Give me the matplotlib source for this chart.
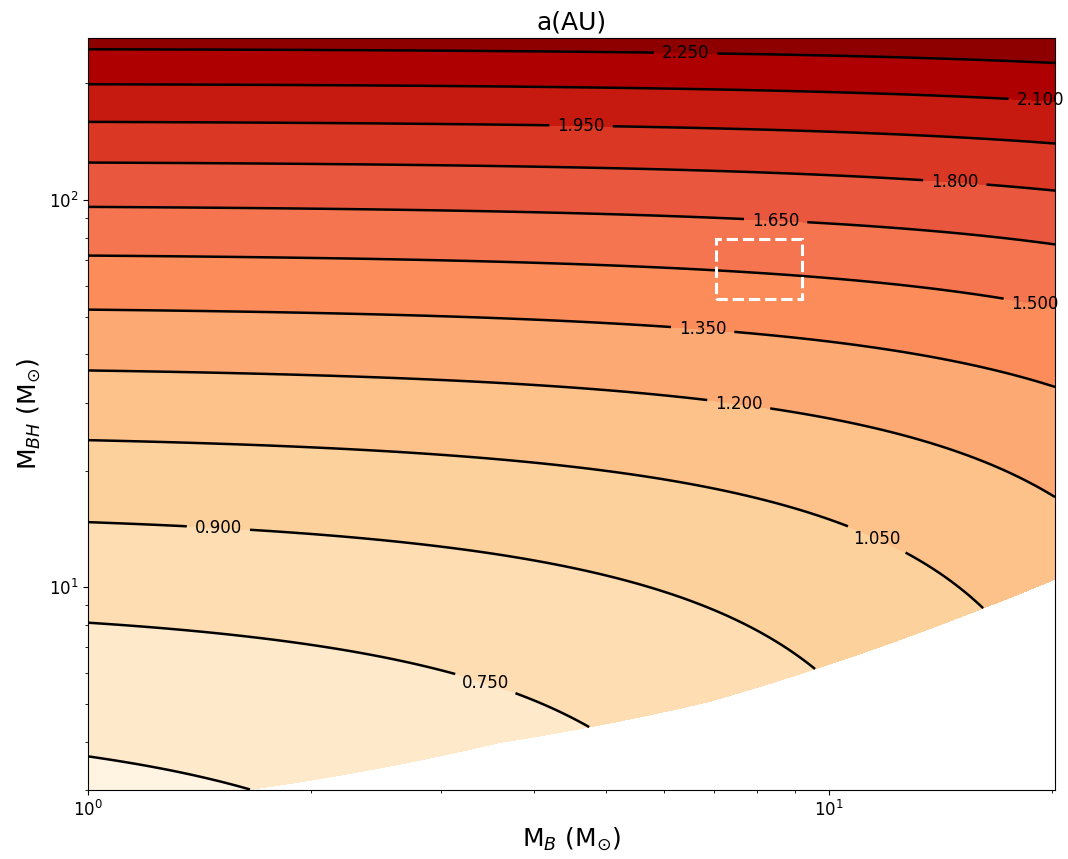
import numpy as np
import matplotlib
matplotlib.use('Agg')
import matplotlib.pyplot as plt
from matplotlib.patches import Rectangle

# orbital period (days), read from where the a-contours sit (Kepler: a^3 = M_tot * P^2)
period_days = 78.6

# contour levels of a (AU)
levels = [0.45, 0.60, 0.75, 0.90, 1.05, 1.20, 1.35, 1.50, 1.65, 1.80, 1.95, 2.10, 2.25, 2.40]

# lower edge of the allowed region (white below it)
edge_MB = [1.0, 1.655, 3.6, 6.91, 12.2, 20.2]
edge_MBH = [2.71, 3.01, 3.98, 5.08, 7.22, 10.5]

# plotted range
MB_range = [1.0, 20.2]
MBH_range = [3.0, 262.0]

# dashed box
box_MB = [7.05, 9.2]
box_MBH = [55.6, 79.3]

# where the contour labels sit
label_pos = [(6.41, 240), (19.3, 182), (4.63, 156), (14.8, 112), (8.48, 89.3),
             (19.0, 54.6), (6.76, 46.8), (7.56, 29.8), (11.65, 13.5),
             (1.50, 14.3), (3.44, 5.66)]

# grid follows the lower edge so the white cut-out stays smooth
MB = np.logspace(np.log10(MB_range[0]), np.log10(MB_range[1]), 500)
t = np.linspace(0, 1, 500)
edge = np.interp(MB, edge_MB, edge_MBH)
X = np.tile(MB, (len(t), 1))
Y = edge[None, :] * (MBH_range[1] / edge[None, :]) ** t[:, None]
P = period_days / 365.25
a = ((X + Y) * P**2) ** (1.0 / 3.0)

fig, ax = plt.subplots(figsize=(10.68, 8.59), dpi=100)
fig.subplots_adjust(left=0.0824, right=0.9878, top=0.9558, bottom=0.0803)

ax.set_xscale('log')
ax.set_yscale('log')
ax.set_xlim(MB_range)
ax.set_ylim(MBH_range)

cf = ax.contourf(X, Y, a, levels=levels, cmap='OrRd')
cs = ax.contour(X, Y, a, levels=levels, colors='k', linewidths=1.8)
labels = ax.clabel(cs, fmt='%.3f', fontsize=12, manual=label_pos, inline=True, inline_spacing=8)
for lab in labels:
    lab.set_rotation(0)
    lab.set_clip_on(False)

ax.add_patch(Rectangle((box_MB[0], box_MBH[0]), box_MB[1] - box_MB[0], box_MBH[1] - box_MBH[0],
                       fill=False, edgecolor='white', linestyle='--', linewidth=2.2, zorder=5))

ax.set_xlim(MB_range)
ax.set_ylim(MBH_range)
ax.tick_params(labelsize=12)
ax.set_xlabel(r'M$_B$ (M$_{\odot}$)', fontsize=18)
ax.set_ylabel(r'M$_{BH}$ (M$_{\odot}$)', fontsize=18)
ax.set_title('a(AU)', fontsize=18)

plt.savefig('out.png', dpi=100)
